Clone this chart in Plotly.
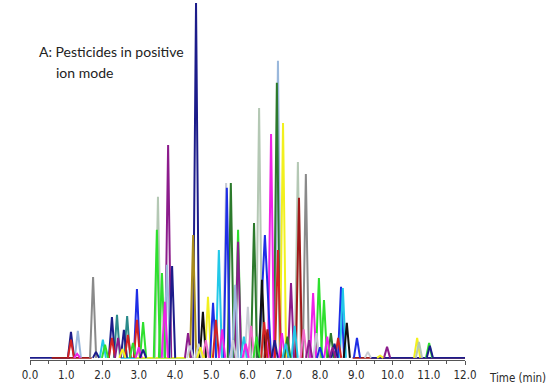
import plotly.graph_objects as go

# Peak table (retention time in min, relative height %)
peak_times = [1.13, 1.13, 1.32, 1.30, 1.74, 1.82, 2.01, 2.07, 2.26, 2.26,
              2.40, 2.43, 2.59, 2.68, 2.70, 2.84, 2.95, 2.95, 3.12, 3.12,
              3.53, 3.50, 3.64, 3.81, 3.78, 3.72, 3.92, 4.36, 4.50, 4.58,
              4.77, 4.91, 5.05, 5.13, 5.21, 5.41, 5.43, 5.54, 5.66, 5.74,
              5.74, 6.01, 6.18, 6.32, 6.40, 6.48, 6.46, 6.65, 6.84, 6.81,
              6.84, 6.98, 7.20, 7.39, 7.42, 7.61, 7.81, 7.97, 8.11, 8.30,
              8.50, 8.58, 8.63, 8.74, 9.02, 9.32, 9.66, 9.85, 10.68, 10.73,
              11.01, 11.03,
              4.42, 4.65, 4.85, 5.30, 5.90, 6.10, 6.95, 7.10, 7.55, 7.70,
              7.90, 8.20, 8.40, 6.55, 6.75, 5.95, 7.30, 8.00, 4.70, 5.60,
              6.25, 7.05, 8.35, 2.55, 3.00]
peak_heights = [7.3, 5.1, 7.6, 1.1, 22.8, 1.7, 5.1, 3.7, 11.5, 5.6,
                12.1, 5.6, 7.9, 11.8, 6.5, 4.2, 19.4, 10.7, 10.1, 2.3,
                45.4, 36.1, 23.9, 60.0, 26.2, 15.8, 25.9, 7.0, 34.6, 100.0,
                13.0, 17.2, 15.5, 10.7, 30.4, 49.3, 47.9, 49.3, 20.6, 36.1,
                32.7, 14.4, 38.0, 70.4, 22.0, 34.6, 10.1, 63.1, 30.4, 77.5,
                83.7, 66.2, 21.1, 55.2, 45.1, 51.8, 18.3, 22.5, 16.3, 7.0,
                5.6, 20.0, 19.7, 9.9, 5.6, 1.7, 0.6, 3.1, 5.6, 4.5,
                4.2, 3.4,
                3.5, 4.0, 5.0, 8.0, 6.0, 9.0, 7.0, 6.0, 8.0, 5.0,
                7.0, 6.0, 4.0, 8.0, 5.0, 4.0, 9.0, 3.0, 3.0, 5.0,
                6.0, 4.0, 3.0, 2.5, 3.0]
peak_colors = ["navy", "red", "lightblue", "magenta", "gray", "navy", "cyan", "green", "navy", "red",
               "teal", "purple", "navy", "teal", "red", "green", "blue", "red", "green", "navy",
               "sage", "green", "green", "purple", "lightblue", "magenta", "navy", "purple", "olive", "navy",
               "black", "yellow", "blue", "red", "cyan", "lightgray", "blue", "darkgreen", "lightblue", "green",
               "purple", "lightgray", "darkgreen", "sage", "black", "blue", "red", "magenta", "red", "darkgreen",
               "lightblue", "yellow", "purple", "sage", "darkred", "gray", "magenta", "green", "green", "darkgreen",
               "red", "blue", "cyan", "black", "blue", "lightgray", "yellow", "purple", "yellow", "sage",
               "green", "navy",
               "lightgray", "lightgray", "pink", "magenta", "cyan", "pink", "magenta", "darkgreen", "pink", "purple",
               "lightgray", "magenta", "navy", "darkred", "navy", "magenta", "cyan", "blue", "yellow", "lightgray",
               "green", "cyan", "purple", "yellow", "magenta"]
broad_peaks = [6.48]

# Baseline segments (start, end, colour)
base_starts = [0.0, 0.6, 2.5, 2.9, 8.9, 9.4]
base_ends = [1.1, 1.7, 4.3, 4.3, 12.0, 12.0]
base_colors = ["navy", "darkred", "cyan", "yellow", "darkred", "navy"]

x_ticks = [0, 1, 2, 3, 4, 5, 6, 7, 8, 9, 10, 11, 12]

palette = {
    "navy": "#1c1c8a", "red": "#d42222", "darkred": "#a01818", "blue": "#1e2ee6",
    "green": "#2ee02e", "darkgreen": "#2c7a2c", "magenta": "#ee22e6", "purple": "#8c1c8c",
    "cyan": "#22c8e8", "lightblue": "#9ab8dc", "gray": "#8a8a8a", "sage": "#b4c8b4",
    "lightgray": "#c8ccd4", "yellow": "#f2f01e", "black": "#111111", "olive": "#a88c1c",
    "teal": "#2a8a8a", "pink": "#f06cc8",
}

fig = go.Figure()

for s, e, c in zip(base_starts, base_ends, base_colors):
    fig.add_trace(go.Scatter(x=[s, e], y=[0, 0], mode="lines",
                             line=dict(color=palette[c], width=1.8), hoverinfo="skip"))

order = sorted(range(len(peak_times)), key=lambda i: -peak_heights[i])
for i in order:
    t, h, c = peak_times[i], peak_heights[i], peak_colors[i]
    w = 0.17 if t in broad_peaks else 0.085
    fig.add_trace(go.Scatter(x=[t - w, t, t + w], y=[0, h, 0], mode="lines",
                             line=dict(color=palette[c], width=2), hoverinfo="skip"))

L, R, T, B = 30, 89, 3, 30
W, H = 554, 390
plot_w = W - L - R
plot_h = H - T - B


def px_to_paper(px, py):
    return (px - L) / plot_w, 1 - (py - T) / plot_h


title_font = dict(size=14, family="Lato, Open Sans, sans-serif", color="#222222")
tick_font = dict(size=11.5, family="Liberation Sans Narrow, DejaVu Sans Condensed, sans-serif", color="#2a2a2a")

anns = []
for text, px, py, f in [("A: Pesticides in positive", 37, 52, title_font),
                        ("ion mode", 54, 73, title_font),
                        ("Time (min)", 487, 378, tick_font)]:
    ax, ay = px_to_paper(px, py)
    anns.append(dict(text=text, xref="paper", yref="paper", x=ax, y=ay,
                     xanchor="left", yanchor="middle", showarrow=False, font=f))

fig.update_layout(
    width=W, height=H,
    margin=dict(l=L, r=R, t=T, b=B),
    paper_bgcolor="white", plot_bgcolor="white",
    showlegend=False,
    font=dict(family="Open Sans, Liberation Sans, sans-serif", color="#333333"),
    xaxis=dict(range=[0, 12], tickmode="array", tickvals=x_ticks,
               ticktext=[f"{v:.1f}" for v in x_ticks],
               showline=True, linecolor="#555555", linewidth=1,
               ticks="outside", ticklen=4, tickcolor="#555555",
               minor=dict(dtick=0.5, ticks="outside", ticklen=3, tickcolor="#555555"),
               showgrid=False, zeroline=False, automargin=False,
               tickfont=tick_font),
    yaxis=dict(range=[-0.6, 100], visible=False, showgrid=False, zeroline=False),
    annotations=anns,
)

fig.write_html("out.html", config={"displayModeBar": False},
               post_script="document.body.style.margin='0';")
